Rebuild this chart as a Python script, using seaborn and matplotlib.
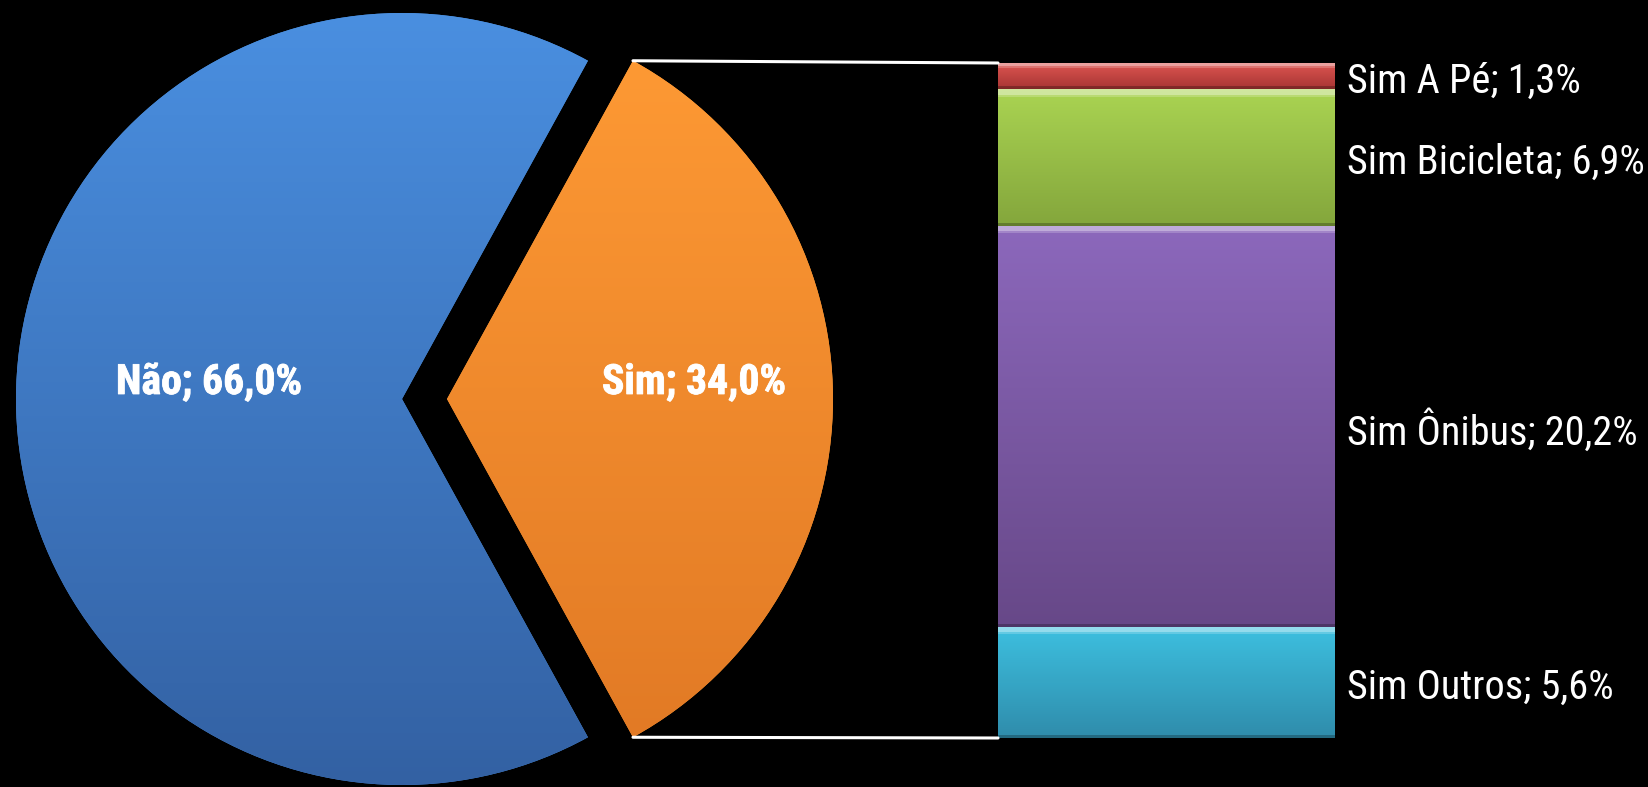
import numpy as np
import matplotlib
matplotlib.use("Agg")
import matplotlib.pyplot as plt
import matplotlib.patheffects as pe
import matplotlib.transforms as mtransforms
import seaborn as sns
import pandas as pd
from matplotlib.patches import ConnectionPatch
from matplotlib.colors import to_rgb

# ---------------- data ----------------
pie_labels = ["Não", "Sim"]
pie_values = [66.0, 34.0]

bar_labels = ["Sim Outros", "Sim Ônibus", "Sim Bicicleta", "Sim A Pé"]   # bottom -> top
bar_values = [5.6, 20.2, 6.9, 1.3]

# ---------------- styles ----------------
pie_top_colors = ["#4a8fe0", "#ff9b35"]
pie_bot_colors = ["#3361a3", "#e07824"]
bar_top_colors = ["#3dc0e0", "#8c68bc", "#aad452", "#dc5450"]
bar_bot_colors = ["#2f8cab", "#674888", "#84a63c", "#a83634"]

sns.set_style("dark")
plt.rcParams["font.family"] = ["Roboto Condensed", "Liberation Sans", "DejaVu Sans"]

W, H = 1648, 787
fig = plt.figure(figsize=(W / 100, H / 100), dpi=100, facecolor="black")

# ---------------- pie ----------------
R = 386.0                 # pixel radius
cx, cy = 424.5, 388.0     # pixel centre (from left / bottom)
pie_w = 860
ax_pie = fig.add_axes([0, 0, pie_w / W, 1])
ax_pie.set_facecolor("black")

start = 360 * pie_values[1] / 100 / 2
wedges, _ = ax_pie.pie(pie_values, startangle=start, counterclock=True,
                       explode=[0.0583, 0.0583], radius=1.0,
                       colors=pie_top_colors,
                       wedgeprops=dict(linewidth=0))
ax_pie.set_aspect("auto")
ax_pie.set_xlim(-cx / R, (pie_w - cx) / R)
ax_pie.set_ylim(-cy / R, (H - cy) / R)
ax_pie.axis("off")


def vgrad(top, bot, n=256, highlight=0):
    t = np.linspace(0, 1, n)[:, None]
    a, b = np.array(to_rgb(top)), np.array(to_rgb(bot))
    img = a * (1 - t) + b * t
    if highlight:
        img[:highlight] = img[:highlight] * 0.55 + 0.45
        img[highlight:highlight + 2] = img[highlight:highlight + 2] * 0.8 + 0.2
        img[-3:] = img[-3:] * 0.75
    return img[:, None, :].repeat(2, axis=1)


for w, ct, cb in zip(wedges, pie_top_colors, pie_bot_colors):
    x0, y0 = w.center
    img = vgrad(ct, cb)
    im = ax_pie.imshow(img, extent=(x0 - 1, x0 + 1, y0 - 1, y0 + 1),
                       origin="upper", aspect="auto", zorder=2,
                       interpolation="bilinear")
    im.set_clip_path(w)

label_dist = [0.5, 0.64]
for w, lab, val, d in zip(wedges, pie_labels, pie_values, label_dist):
    x0, y0 = w.center
    mid = np.deg2rad((w.theta1 + w.theta2) / 2)
    ax_pie.text(x0 + d * np.cos(mid), y0 + d * np.sin(mid) + 0.013,
                f"{lab}; {val:.1f}%".replace(".", ","),
                ha="center", va="baseline", color="white",
                fontsize=30, fontweight="bold", zorder=5,
                path_effects=[pe.withStroke(linewidth=0.6, foreground="white")])

# ---------------- stacked bar ----------------
bx0, bx1 = 998, 1335
by_top, by_bot = 63, 738
ax_bar = fig.add_axes([bx0 / W, (H - by_bot) / H, (bx1 - bx0) / W, (by_bot - by_top) / H])
ax_bar.set_facecolor("black")

df = pd.DataFrame({"grupo": ["Sim"] * len(bar_values),
                   "categoria": bar_labels,
                   "valor": bar_values})
df["base"] = df["valor"].cumsum() - df["valor"]

bar_patches = []
for i, row in df.iterrows():
    n_before = len(ax_bar.patches)
    sns.barplot(data=df.iloc[[i]], x="grupo", y="valor", bottom=row["base"],
                width=1.0, color=bar_top_colors[i], saturation=1,
                errorbar=None, linewidth=0, ax=ax_bar)
    bar_patches.append(ax_bar.patches[n_before])

total = sum(bar_values)
ax_bar.set_xlim(-0.5, 0.5)
ax_bar.set_ylim(0, total)
ax_bar.axis("off")

px_per_unit = (by_bot - by_top) / total
for p, ct, cb in zip(bar_patches, bar_top_colors, bar_bot_colors):
    y0, h = p.get_y(), p.get_height()
    n = max(int(round(h * px_per_unit)), 10)
    img = vgrad(ct, cb, n=n, highlight=min(6, max(2, n // 8)))
    im = ax_bar.imshow(img, extent=(-0.5, 0.5, y0, y0 + h), origin="upper",
                       aspect="auto", zorder=3, interpolation="nearest")
    im.set_clip_path(p)

label_tr = ax_bar.get_yaxis_transform() + mtransforms.ScaledTranslation(0, -5 / 100, fig.dpi_scale_trans)
for p, lab, val in zip(bar_patches, bar_labels, bar_values):
    yc = p.get_y() + p.get_height() / 2
    ax_bar.text(1.035, yc, f"{lab}; {val:.1f}%".replace(".", ","),
                transform=label_tr, ha="left", va="center",
                color="white", fontsize=29, clip_on=False)

# ---------------- connector lines ----------------
sim = wedges[1]
sx, sy = sim.center
for ang, yb in [(sim.theta2, 1.0), (sim.theta1, 0.0)]:
    a = np.deg2rad(ang)
    tip = (sx + np.cos(a), sy + np.sin(a))
    con = ConnectionPatch(xyA=tip, coordsA=ax_pie.transData,
                          xyB=(0.0, yb), coordsB=ax_bar.transAxes,
                          color="white", linewidth=2.2)
    fig.add_artist(con)

fig.savefig("out.png", dpi=100, facecolor="black")
